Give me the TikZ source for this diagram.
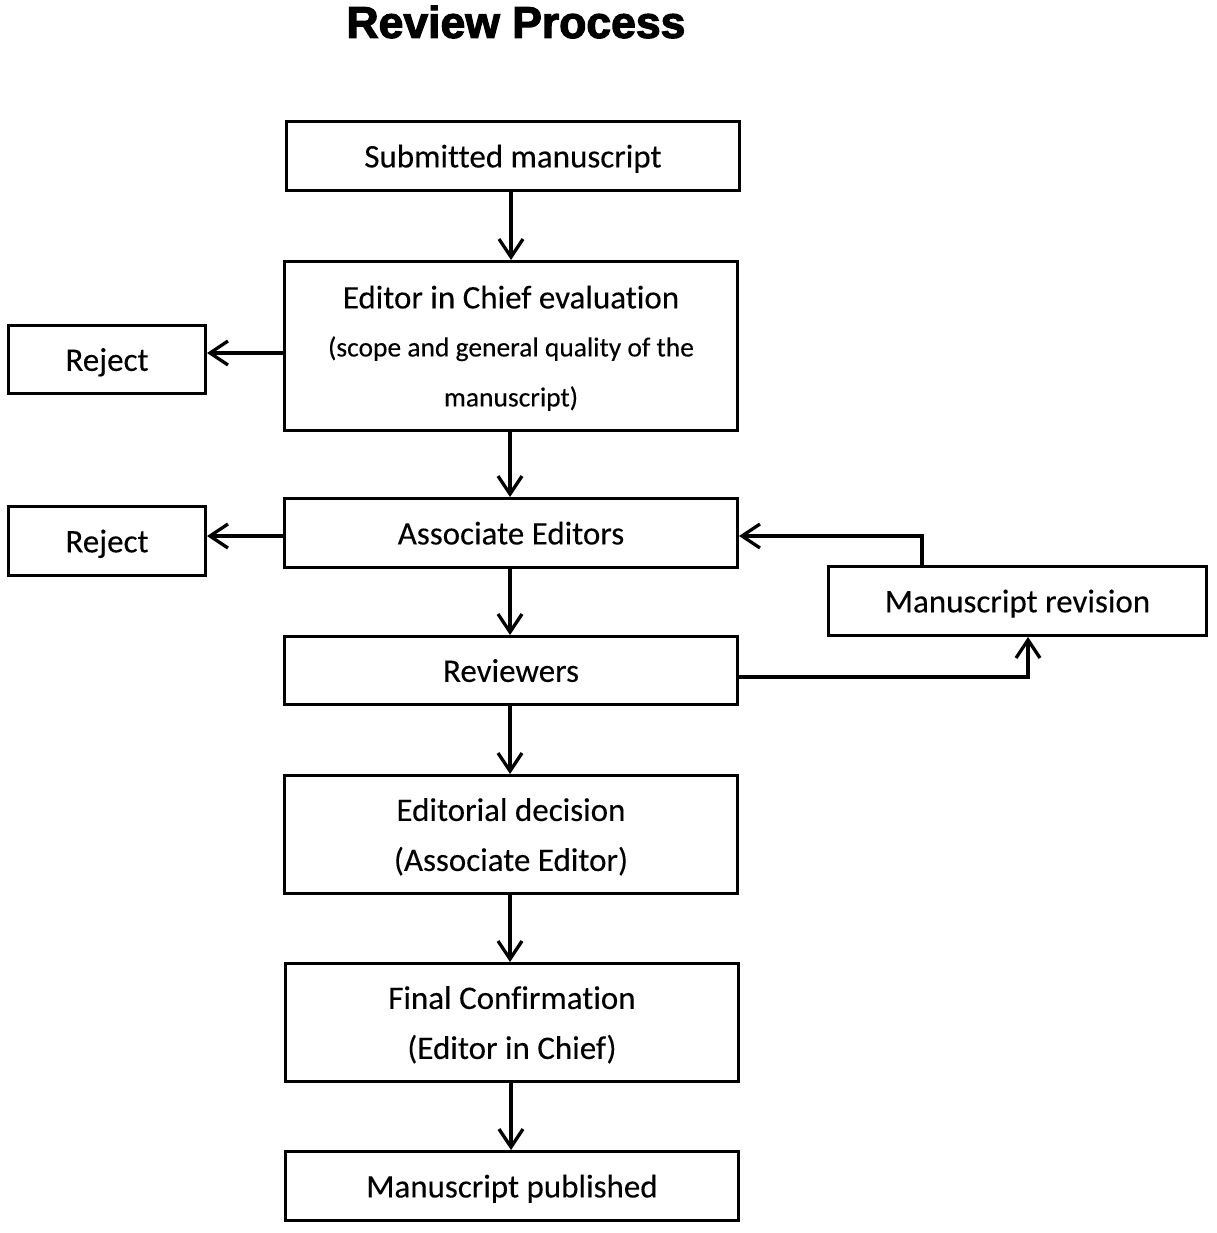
\documentclass[tikz,border=0pt]{standalone}
\usepackage{fontspec}
\setmainfont[Ligatures=NoCommon,FakeBold=0.15]{Carlito}
\newfontfamily\titlefont[FakeBold=2.6]{Liberation Sans Bold}
\usetikzlibrary{arrows.meta}
\begin{document}
\begin{tikzpicture}[x=1pt,y=-1pt,
  box/.style={draw,line width=3pt,inner sep=0pt,align=center,text depth=0pt,font=\fontsize{33}{50}\selectfont},
  arr/.style={line width=3.3pt,-{Straight Barb[length=18pt,width=24pt,line width=3.3pt]}}]
\useasboundingbox[fill=white] (0,0) rectangle (1216,1233);
\node[font=\titlefont\fontsize{44.5}{50}\selectfont] (title) at (516,22) {Review Process};
\node[box,minimum width=453pt,minimum height=69pt] (sub) at (513,156) {Submitted manuscript};
\node[box,minimum width=453pt,minimum height=169pt] (eic) at (511,346) {Editor in Chief evaluation\\[-2pt]
  {\fontsize{27.5}{50}\selectfont(scope and general quality of the}\\
  {\fontsize{27.5}{50}\selectfont manuscript)}};
\node[box,minimum width=197pt,minimum height=68pt] (rej1) at (107,359.5) {Reject};
\node[box,minimum width=197pt,minimum height=69pt] (rej2) at (107,541) {Reject};
\node[box,minimum width=453pt,minimum height=69pt] (ae) at (511,533) {Associate Editors};
\node[box,minimum width=378pt,minimum height=69pt] (rev) at (1017.5,601) {Manuscript revision};
\node[box,minimum width=453pt,minimum height=68pt] (revs) at (511,670.5) {Reviewers};
\node[box,minimum width=453pt,minimum height=118pt] (dec) at (511,834.5) {Editorial decision\\(Associate Editor)};
\node[box,minimum width=453pt,minimum height=118pt] (fin) at (512,1022.5) {Final Confirmation\\(Editor in Chief)};
\node[box,minimum width=453pt,minimum height=69pt] (pub) at (512,1186) {Manuscript published};
\draw[arr] (sub.south -| 511,0) -- (eic.north -| 511,0);
\draw[arr] (eic.west |- 0,353) -- (rej1.east |- 0,353);
\draw[arr] (eic.south -| 510,0) -- (ae.north -| 510,0);
\draw[arr] (ae.west |- 0,536) -- (rej2.east |- 0,536);
\draw[arr] (ae.south -| 510,0) -- (revs.north -| 510,0);
\draw[arr] (revs.east |- 0,677) -| (rev.south -| 1028,0);
\draw[arr] (rev.north -| 922,0) |- (ae.east |- 0,536);
\draw[arr] (revs.south -| 510,0) -- (dec.north -| 510,0);
\draw[arr] (dec.south -| 510,0) -- (fin.north -| 510,0);
\draw[arr] (fin.south -| 511,0) -- (pub.north -| 511,0);
\end{tikzpicture}
\end{document}
